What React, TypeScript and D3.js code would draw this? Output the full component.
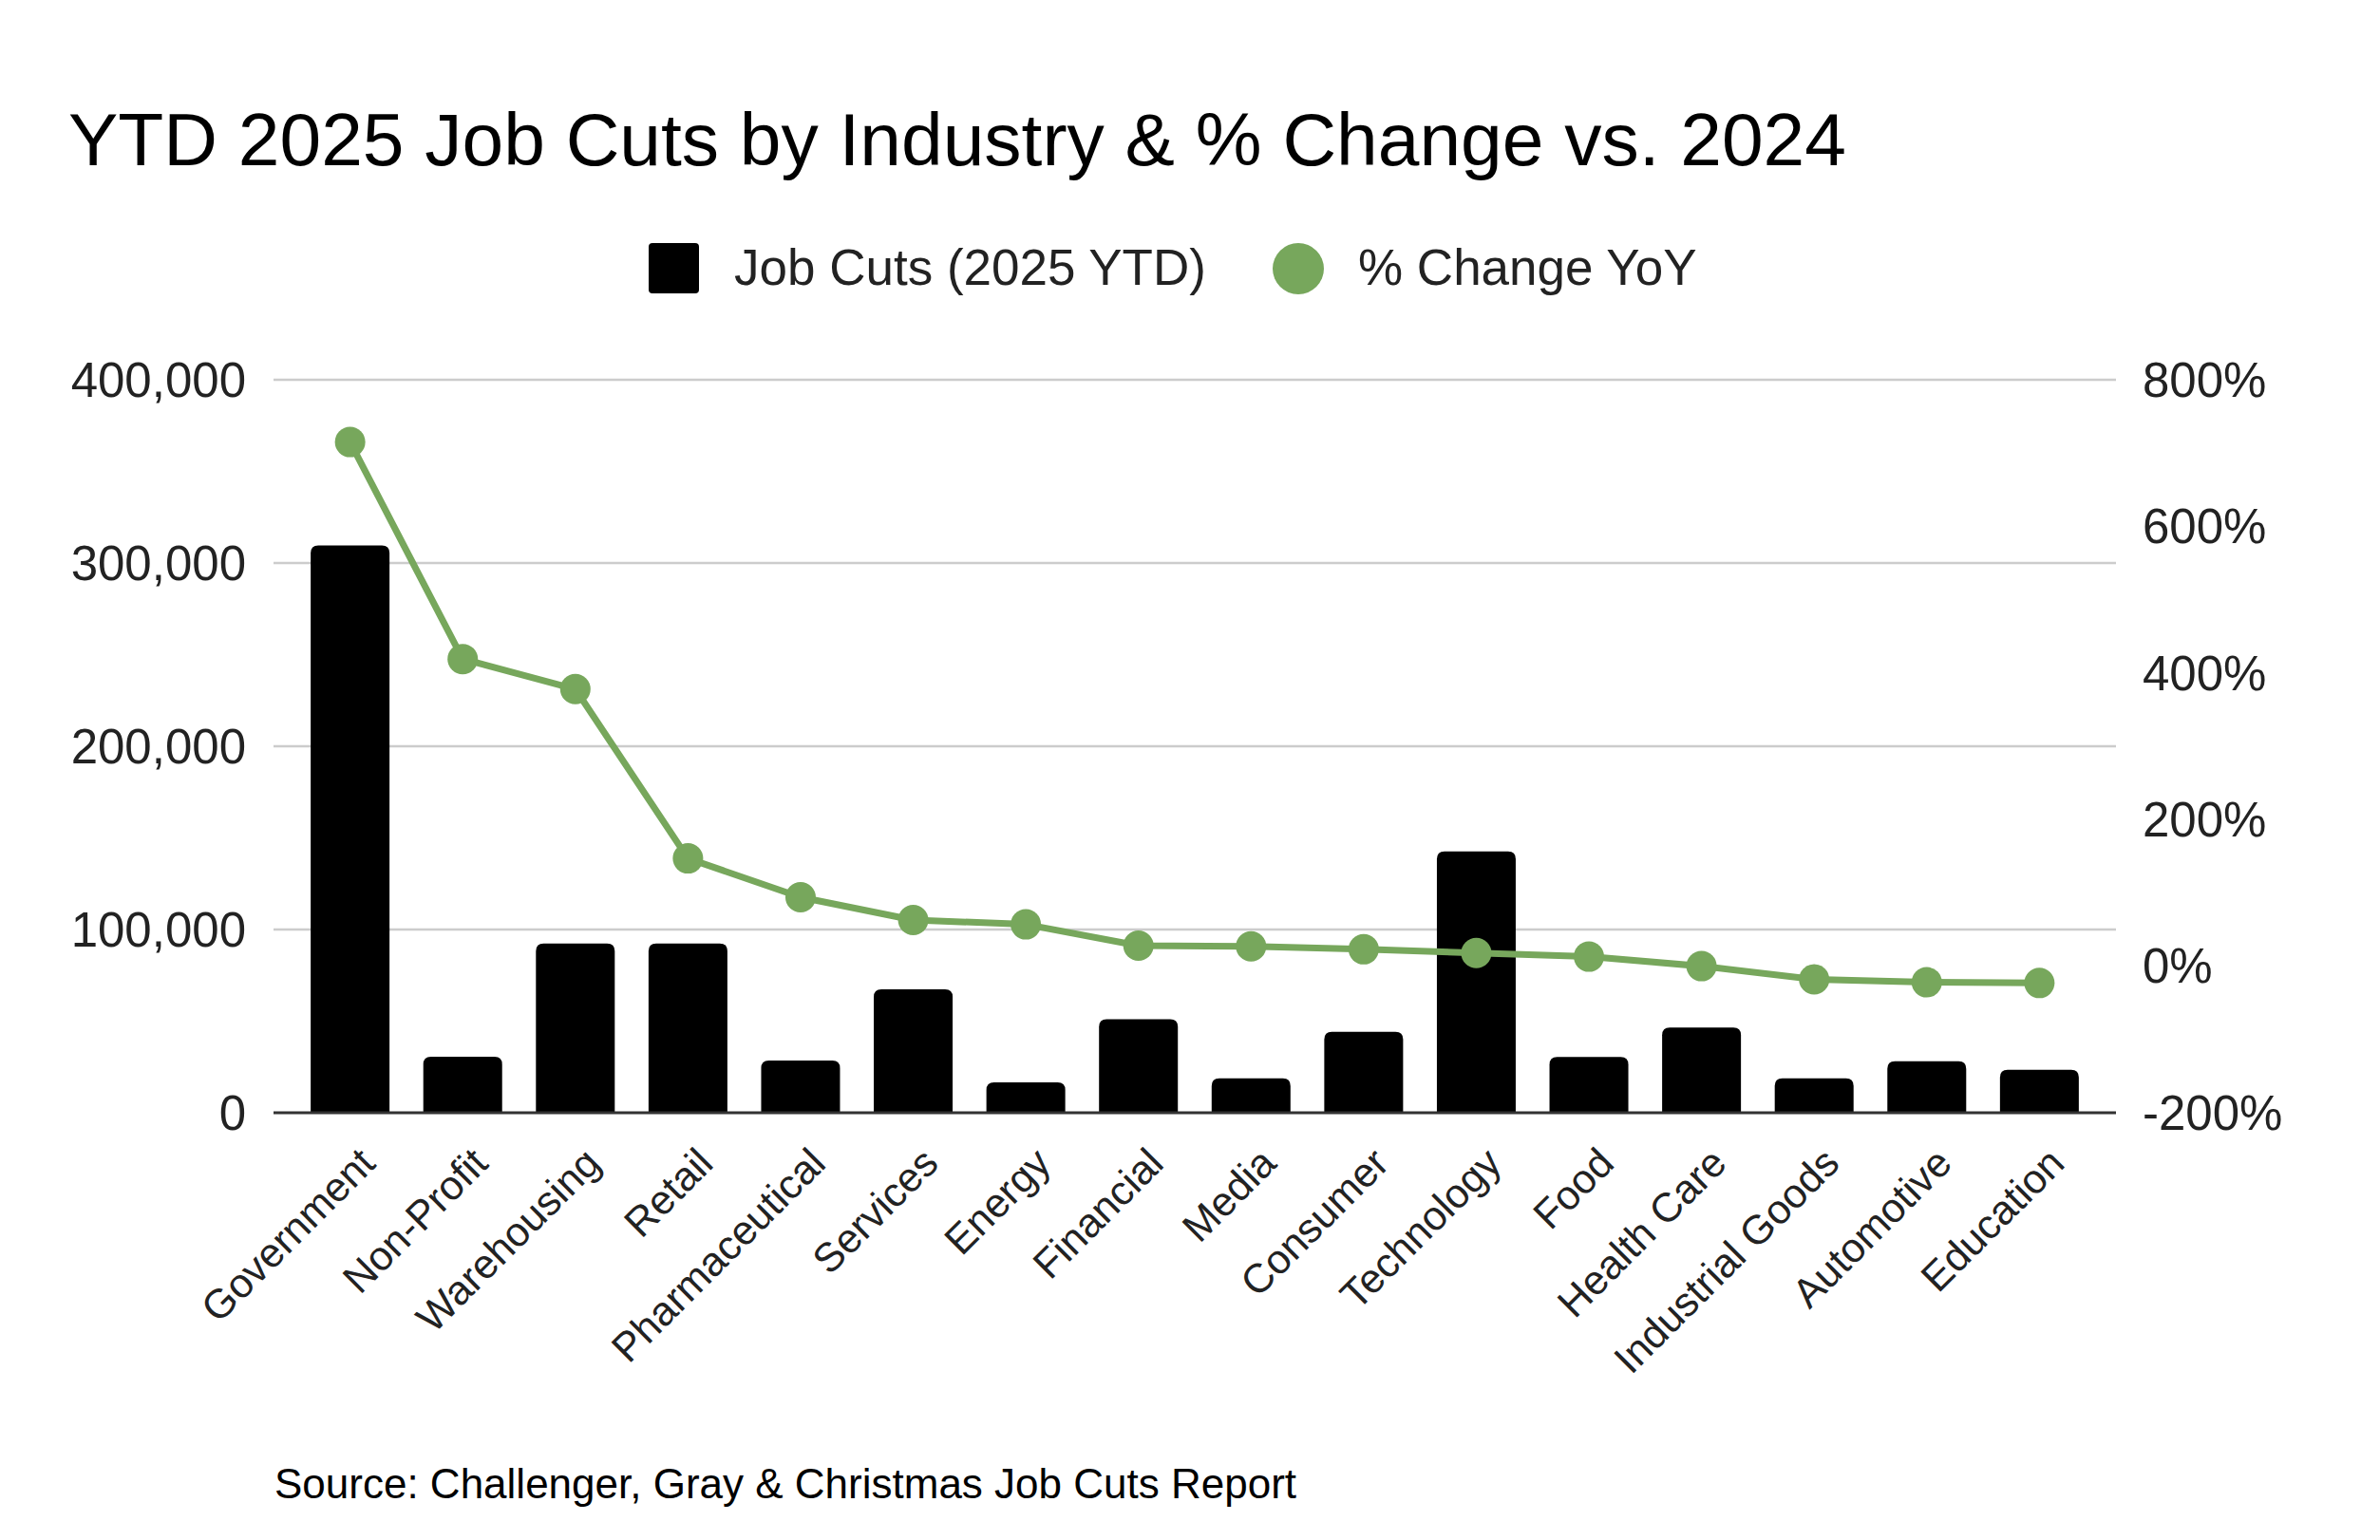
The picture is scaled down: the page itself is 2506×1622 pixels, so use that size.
import { useEffect, useRef } from "react"
import * as d3 from "d3"

const categories = [
    "Government", "Non-Profit", "Warehousing", "Retail", "Pharmaceutical", "Services",
    "Energy", "Financial", "Media", "Consumer", "Technology", "Food", "Health Care",
    "Industrial Goods", "Automotive", "Education",
]
const jobCuts = [
    309600, 30600, 92300, 92300, 28500, 67400, 16600, 51100, 18800, 44200, 142600,
    30400, 46500, 18800, 28100, 23500,
]
const pctChange = [715, 419, 378, 147, 94, 63, 57, 28, 27, 23, 18, 13, 0, -18, -22, -23]
const leftTicks = [0, 100000, 200000, 300000, 400000]
const rightTicks = [-200, 0, 200, 400, 600, 800]

const W = 2506
const H = 1622
const FONT = "'Liberation Sans', Arial, sans-serif"
const GREEN = "#77a75c"

export default function App() {
    const svgRef = useRef<SVGSVGElement | null>(null)

    useEffect(() => {
        if (!svgRef.current) return
        const svg = d3.select(svgRef.current)
        svg.selectAll("*").remove()

        const margin = { top: 400, right: W - 2228, bottom: H - 1172, left: 288 }
        const x = d3
            .scaleBand<string>()
            .domain(categories)
            .range([margin.left, W - margin.right])
            .paddingInner(0.3)
            .paddingOuter(0.33)
        const yLeft = d3.scaleLinear().domain([0, 400000]).range([H - margin.bottom, margin.top])
        const yRight = d3.scaleLinear().domain([-200, 800]).range([H - margin.bottom, margin.top])

        svg.append("rect").attr("width", W).attr("height", H).attr("fill", "#fff")

        // title
        svg.append("text")
            .attr("x", 72)
            .attr("y", 174)
            .attr("font-size", 78.5)
            .attr("fill", "#000")
            .text("YTD 2025 Job Cuts by Industry & % Change vs. 2024")

        // legend
        const lg = svg.append("g").attr("font-size", 53).attr("fill", "#222")
        lg.append("rect").attr("x", 683).attr("y", 256).attr("width", 53).attr("height", 53).attr("rx", 4).attr("fill", "#000")
        lg.append("text").attr("x", 773).attr("y", 300).text("Job Cuts (2025 YTD)")
        lg.append("circle").attr("cx", 1367).attr("cy", 283).attr("r", 27).attr("fill", GREEN)
        lg.append("text").attr("x", 1430).attr("y", 300).text("% Change YoY")

        // gridlines
        svg.append("g")
            .selectAll("line")
            .data(leftTicks.filter((d) => d > 0))
            .join("line")
            .attr("x1", margin.left)
            .attr("x2", W - margin.right)
            .attr("y1", (d) => yLeft(d))
            .attr("y2", (d) => yLeft(d))
            .attr("stroke", "#cccccc")
            .attr("stroke-width", 2.5)

        // left axis labels
        svg.append("g")
            .attr("font-size", 51)
            .attr("fill", "#222")
            .attr("text-anchor", "end")
            .selectAll("text")
            .data(leftTicks)
            .join("text")
            .attr("x", 259)
            .attr("y", (d) => yLeft(d))
            .attr("dy", "0.35em")
            .text((d) => d3.format(",")(d))

        // right axis labels
        svg.append("g")
            .attr("font-size", 51)
            .attr("fill", "#222")
            .selectAll("text")
            .data(rightTicks)
            .join("text")
            .attr("x", 2256)
            .attr("y", (d) => yRight(d))
            .attr("dy", "0.35em")
            .text((d) => `${d}%`)

        // bars with rounded tops
        const r = 8
        svg.append("g")
            .selectAll("path")
            .data(categories)
            .join("path")
            .attr("fill", "#000")
            .attr("d", (c, i) => {
                const x0 = x(c)!
                const w = x.bandwidth()
                const y0 = yLeft(0)
                const y1 = yLeft(jobCuts[i])
                return `M${x0},${y0}V${y1 + r}Q${x0},${y1} ${x0 + r},${y1}H${x0 + w - r}Q${x0 + w},${y1} ${x0 + w},${y1 + r}V${y0}Z`
            })

        // baseline
        svg.append("line")
            .attr("x1", margin.left)
            .attr("x2", W - margin.right)
            .attr("y1", yLeft(0))
            .attr("y2", yLeft(0))
            .attr("stroke", "#333")
            .attr("stroke-width", 3)

        // line series
        const cx = (c: string) => x(c)! + x.bandwidth() / 2
        const line = d3
            .line<number>()
            .x((_, i) => cx(categories[i]))
            .y((d) => yRight(d))
        svg.append("path")
            .datum(pctChange)
            .attr("fill", "none")
            .attr("stroke", GREEN)
            .attr("stroke-width", 7)
            .attr("stroke-linejoin", "round")
            .attr("d", line)
        svg.append("g")
            .selectAll("circle")
            .data(pctChange)
            .join("circle")
            .attr("cx", (_, i) => cx(categories[i]))
            .attr("cy", (d) => yRight(d))
            .attr("r", 16)
            .attr("fill", GREEN)

        // category labels
        svg.append("g")
            .attr("font-size", 43)
            .attr("fill", "#222")
            .attr("text-anchor", "end")
            .selectAll("text")
            .data(categories)
            .join("text")
            .attr("transform", (c) => `translate(${cx(c) + 18},${yLeft(0) + 45}) rotate(-45)`)
            .attr("dy", "0.35em")
            .text((c) => c)

        // source
        svg.append("text")
            .attr("x", 289)
            .attr("y", 1578)
            .attr("font-size", 44)
            .attr("fill", "#000")
            .text("Source: Challenger, Gray & Christmas Job Cuts Report")
    }, [])

    return (
        <svg
            ref={svgRef}
            width={W}
            height={H}
            fontFamily={FONT}
            style={{ position: "absolute", left: 0, top: 0, display: "block" }}
        />
    )
}
